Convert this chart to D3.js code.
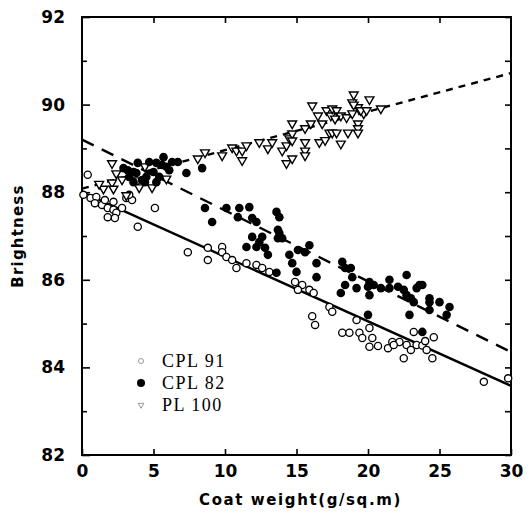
<!DOCTYPE html>
<html>
<head>
<meta charset="utf-8">
<script src="https://d3js.org/d3.v7.min.js"></script>
<style>
  body { margin: 0; background: #fff; }
  svg text { fill: #000; }
</style>
</head>
<body>
<svg id="chart" width="532" height="520"></svg>
<script>
// values: [coat weight, brightness]
const cpl91 = [
  [0.4,88.4],[0.1,87.94],[0.6,87.87],[1.0,87.89],[0.9,87.75],[1.4,87.71],[1.6,87.82],[1.8,87.64],
  [2.2,87.78],[2.2,87.6],[2.4,87.53],[2.8,87.64],[1.8,87.43],[2.3,87.41],[3.1,87.87],[3.5,87.82],
  [3.3,87.94],[5.1,87.64],[3.9,87.21],
  [7.4,86.63],[8.8,86.45],[8.8,86.73],[9.8,86.75],[9.8,86.63],[10.1,86.52],[10.5,86.45],[10.8,86.27],
  [11.5,86.38],[12.2,86.34],[12.6,86.27],[13.1,86.18],
  [14.9,85.95],[15.4,85.88],[15.9,85.77],[15.1,85.77],[16.2,85.7],[17.3,85.38],[17.5,85.27],[16.1,85.17],
  [16.3,84.97],[18.2,84.79],[18.7,84.79],[19.2,85.08],[19.4,84.79],[20.1,84.9],[19.6,84.67],[20.3,84.67],
  [20.1,84.47],[20.7,84.49],[21.4,84.44],[21.7,84.58],[22.2,84.58],[22.7,84.51],[23.0,84.4],[23.2,84.81],
  [23.4,84.51],[22.5,84.21],[23.8,84.5],[24.1,84.4],[24.6,84.69],[24.5,84.21],[24.0,84.6],[21.8,84.51],
  [28.1,83.67],[29.8,83.75]
];
const cpl82 = [
  [2.9,88.55],[3.2,88.5],[3.6,88.46],[3.3,88.35],[3.9,88.67],[3.8,88.44],[4.2,88.28],[4.5,88.35],
  [4.7,88.69],[5.2,88.67],[5.7,88.8],[5.6,88.62],[5.0,88.46],[5.4,88.35],[5.9,88.58],[6.3,88.69],
  [6.1,88.5],[5.2,88.23],[6.7,88.69],[7.3,88.44],[8.4,88.55],[4.4,88.23],[3.6,88.23],
  [8.6,87.64],[9.1,87.32],[10.1,87.64],[11.0,87.64],[11.7,87.66],[10.9,87.43],[11.9,87.41],[12.2,87.32],
  [13.6,87.55],[13.8,87.43],[13.7,87.14],[11.9,86.98],[12.6,86.98],[13.8,87.07],[13.7,86.95],[12.4,86.86],
  [12.2,86.75],[11.5,86.75],[12.8,86.73],[13.0,86.57],[14.5,86.57],[15.1,86.68],[15.6,86.63],[15.9,86.79],
  [14.7,86.38],[15.0,86.18],[16.4,86.38],[16.4,86.06],[18.2,86.41],[18.4,86.27],[18.8,86.27],[18.9,86.06],
  [18.4,85.88],[18.1,85.7],[19.2,85.81],[13.6,86.16],[14.0,86.95],
  [20.1,85.95],[20.0,85.84],[20.4,85.88],[20.1,85.65],[20.9,85.81],[21.5,86.0],[21.5,85.81],[22.1,85.84],
  [22.5,85.77],[22.7,86.11],[22.7,85.65],[23.4,85.81],[23.6,85.88],[23.8,85.88],[23.0,85.58],[23.2,85.49],
  [24.3,85.58],[24.3,85.49],[24.3,85.31],[25.0,85.49],[25.7,85.38],[25.5,85.2],[22.9,85.2],[20.0,85.2],
  [23.8,84.81]
];
const pl100 = [
  [2.1,88.67],[2.4,88.44],[2.1,88.23],[2.2,88.09],[1.5,88.09],[3.1,87.94],[3.9,88.28],[4.0,88.12],
  [4.9,88.12],[5.9,88.32],[2.8,88.3],[1.2,88.2],[4.4,88.6],
  [8.1,88.78],[8.6,88.92],[9.8,88.85],[10.5,89.03],[10.8,88.96],[11.2,88.96],[11.5,89.08],[11.2,88.74],
  [12.4,89.15],[13.0,89.01],[13.3,89.15],[14.0,88.96],[14.3,89.08],[14.5,89.24],[14.7,89.35],[14.7,89.58],
  [14.3,88.67],[14.7,88.78],[14.7,89.19],[15.6,89.47],[16.0,89.58],[15.6,89.15],[15.6,88.96],[15.6,88.85],
  [16.6,89.15],[16.1,89.99],[16.5,89.76],[16.8,89.58],[17.1,89.88],[17.4,89.76],[17.5,89.92],[17.8,89.88],
  [18.1,89.76],[17.3,89.37],[17.5,89.37],[17.8,89.37],[17.7,89.69],[18.5,89.72],[18.6,89.37],[18.9,89.81],
  [19.3,89.95],[19.3,89.58],[19.3,89.47],[19.3,89.37],[19.7,89.81],[19.5,89.88],[19.9,89.88],[18.1,89.12],
  [18.9,90.06],[20.9,89.92],[19.0,90.24],[20.1,90.13],[19.0,90.01],[17.0,89.2]
];

// fitted lines (end points)
const cpl91Fit = [[0, 88.0], [30, 83.58]];
const cpl82Fit = [[0, 89.2], [30, 84.35]];
const pl100Fit = [[0, 88.08], [30, 90.72]];

const xTicks = [0, 5, 10, 15, 20, 25, 30];
const yTicks = [82, 84, 86, 88, 90, 92];
const yMinor = [83, 85, 87, 89, 91];
const legendLabels = ["CPL 91", "CPL 82", "PL 100"];

const svg = d3.select("#chart");
const x = d3.scaleLinear().domain([0, 30]).range([82, 511]);
const y = d3.scaleLinear().domain([82, 92]).range([455, 17]);

const sans = "DejaVu Sans, sans-serif";

// axes, ticks inward
const axisFont = g => g.selectAll("text")
  .attr("font-family", sans).attr("font-size", 17).attr("font-weight", "bold");

svg.append("g").attr("transform", "translate(0,455)")
  .call(d3.axisBottom(x).tickValues(xTicks).tickSizeInner(-6).tickSizeOuter(0).tickPadding(10).tickFormat(d3.format("d")))
  .call(g => g.select(".domain").remove())
  .call(g => g.selectAll("line").attr("stroke-width", 1.6))
  .call(axisFont);

svg.append("g").attr("transform", "translate(0,17)")
  .call(d3.axisTop(x).tickValues(xTicks.slice(1, -1)).tickSizeInner(-6).tickSizeOuter(0).tickFormat(""))
  .call(g => g.select(".domain").remove())
  .call(g => g.selectAll("line").attr("stroke-width", 1.6));

svg.append("g").attr("transform", "translate(82,0)")
  .call(d3.axisLeft(y).tickValues(yTicks).tickSizeInner(-8).tickSizeOuter(0).tickPadding(17).tickFormat(d3.format("d")))
  .call(g => g.select(".domain").remove())
  .call(g => g.selectAll("line").attr("stroke-width", 1.6))
  .call(axisFont);

svg.append("g").attr("transform", "translate(82,0)")
  .call(d3.axisLeft(y).tickValues(yMinor).tickSizeInner(-5).tickSizeOuter(0).tickFormat(""))
  .call(g => g.select(".domain").remove())
  .call(g => g.selectAll("line").attr("stroke-width", 1.6));

svg.append("g").attr("transform", "translate(511,0)")
  .call(d3.axisRight(y).tickValues(yTicks.concat(yMinor)).tickSizeInner(-6).tickSizeOuter(0).tickFormat(""))
  .call(g => g.select(".domain").remove())
  .call(g => g.selectAll("line").attr("stroke-width", 1.6));

svg.append("rect")
  .attr("x", x(0)).attr("y", y(92))
  .attr("width", x(30) - x(0)).attr("height", y(82) - y(92))
  .attr("fill", "none").attr("stroke", "#000").attr("stroke-width", 2);

// axis titles
svg.append("text")
  .attr("x", (x(0) + x(30)) / 2 + 4).attr("y", 505)
  .attr("text-anchor", "middle")
  .attr("font-family", sans).attr("font-size", 15).attr("font-weight", "bold")
  .attr("letter-spacing", 1.6)
  .text("Coat weight(g/sq.m)");

svg.append("text")
  .attr("transform", `translate(23,${(y(82) + y(92)) / 2}) rotate(-90)`)
  .attr("text-anchor", "middle")
  .attr("font-family", sans).attr("font-size", 15).attr("font-weight", "bold")
  .attr("letter-spacing", 1.2)
  .text("Brightness");

// fitted lines
const line = d3.line().x(d => x(d[0])).y(d => y(d[1]));
const fits = [
  { data: cpl91Fit, dash: null },
  { data: cpl82Fit, dash: "13,9" },
  { data: pl100Fit, dash: "7,6" }
];
svg.append("g").selectAll("path").data(fits).join("path")
  .attr("d", d => line(d.data))
  .attr("fill", "none").attr("stroke", "#000").attr("stroke-width", 2.4)
  .attr("stroke-dasharray", d => d.dash);

// points
const tri = d3.symbol().type(d3.symbolTriangle).size(34);
const plot = svg.append("g");

plot.selectAll("circle.c91").data(cpl91).join("circle")
  .attr("class", "c91")
  .attr("cx", d => x(d[0])).attr("cy", d => y(d[1])).attr("r", 3.6)
  .attr("fill", "#fff").attr("stroke", "#000").attr("stroke-width", 1.3);

plot.selectAll("path.p100").data(pl100).join("path")
  .attr("class", "p100")
  .attr("d", tri)
  .attr("transform", d => `translate(${x(d[0])},${y(d[1]) + 0.5}) rotate(180)`)
  .attr("fill", "#fff").attr("stroke", "#000").attr("stroke-width", 1.4);

plot.selectAll("circle.c82").data(cpl82).join("circle")
  .attr("class", "c82")
  .attr("cx", d => x(d[0])).attr("cy", d => y(d[1])).attr("r", 4.3)
  .attr("fill", "#000");

// legend
const legend = svg.append("g").attr("transform", "translate(141,361)");
const rows = legend.selectAll("g").data(legendLabels).join("g")
  .attr("transform", (d, i) => `translate(0,${i * 22})`);
rows.filter((d, i) => i === 0).append("circle")
  .attr("r", 2.5).attr("fill", "none").attr("stroke", "#999").attr("stroke-width", 1);
rows.filter((d, i) => i === 1).append("circle")
  .attr("r", 4).attr("fill", "#000");
rows.filter((d, i) => i === 2).append("path")
  .attr("d", d3.symbol().type(d3.symbolTriangle).size(14))
  .attr("transform", "rotate(180)")
  .attr("fill", "none").attr("stroke", "#999").attr("stroke-width", 1);
rows.append("text")
  .attr("x", 21).attr("dy", "0.36em")
  .attr("font-family", "Liberation Serif, serif").attr("font-size", 18)
  .attr("letter-spacing", 1.5)
  .text(d => d);
</script>
</body>
</html>
